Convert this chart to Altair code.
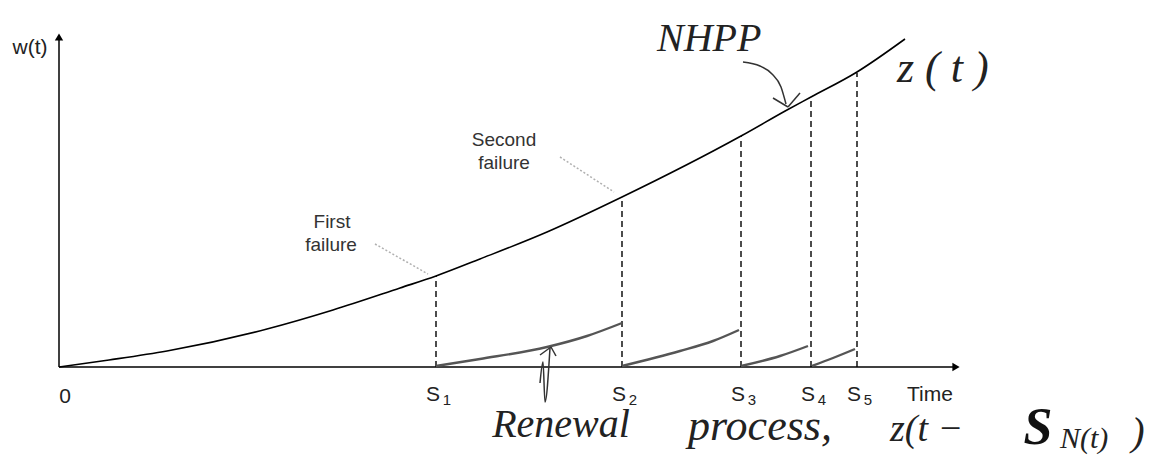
import altair as alt
import pandas as pd

# ---------------- data (time units along x, w(t) units along y) ----------------
# NHPP intensity curve z(t)
curve_t = [0, 0.5, 1.08, 2.08, 2.74, 3.41, 3.77, 4.21, 4.88, 5.63, 6.82, 7.28, 7.52, 7.98, 8.46]
curve_w = [0, 0.07, 0.16, 0.38, 0.57, 0.79, 0.91, 1.08, 1.35, 1.70, 2.31, 2.57, 2.70, 2.95, 3.28]

# failure times S1..S5 and the value of z at each
fail_idx = ["1", "2", "3", "4", "5"]
fail_t = [3.77, 5.63, 6.82, 7.52, 7.98]
fail_w = [0.91, 1.70, 2.31, 2.70, 2.94]

# renewal process pieces z(t - S_N(t))
renew_seg = [1, 1, 1, 1, 1, 2, 2, 2, 2, 3, 3, 3, 4, 4, 4]
renew_t = [3.77, 4.21, 4.88, 5.28, 5.63, 5.63, 6.21, 6.54, 6.80, 6.82, 7.21, 7.49, 7.53, 7.74, 7.96]
renew_w = [0.01, 0.08, 0.20, 0.31, 0.44, 0.01, 0.16, 0.26, 0.37, 0.01, 0.11, 0.21, 0.01, 0.09, 0.18]

# axis extents (arrow heads)
x_axis_end = 8.97
y_axis_end = 3.30

# printed annotations
note_text = ["First", "failure", "Second", "failure"]
note_t = [2.73, 2.72, 4.45, 4.45]
note_w = [1.45, 1.22, 2.27, 2.04]

leader_id = [1, 1, 2, 2]
leader_t = [3.16, 3.69, 5.01, 5.55]
leader_w = [1.23, 0.93, 2.10, 1.75]

# axis text
axis_text = ["0", "Time", "w(t)"]
axis_t = [0.06, 8.71, -0.29]
axis_w = [-0.30, -0.28, 3.19]
s_label_w = -0.28

# handwritten notes
hand_text = ["NHPP", "z ( t )", "Renewal", "process,"]
hand_t = [5.98, 8.38, 5.02, 7.01]
hand_w = [3.28, 2.98, -0.70, -0.73]
hand_size = [40, 44, 40, 44]

formula_a_text = ["z(t \u2212"]
formula_a_t = [8.31]
formula_a_w = [-0.74]
formula_s_t = [9.79]
formula_s_w = [-0.77]
formula_sub_text = ["N(t)"]
formula_sub_t = [10.01]
formula_sub_w = [-0.81]
formula_close_t = [10.79]
formula_close_w = [-0.78]

# handwritten arrows
harrow_id = [1, 1, 1, 1, 1, 2, 2, 3, 3, 4, 4, 4, 4, 5, 5, 6, 6]
harrow_t = [6.84, 7.01, 7.13, 7.22, 7.27, 7.14, 7.29, 7.41, 7.29,
            4.86, 4.81, 4.84, 4.91, 4.81, 4.92, 4.97, 4.92]
harrow_w = [3.05, 3.01, 2.93, 2.80, 2.63, 2.69, 2.60, 2.74, 2.60,
            -0.35, -0.16, 0.05, 0.19, 0.12, 0.20, 0.11, 0.20]

# ---------------- scales ----------------
XS = alt.Scale(domain=[-0.51, 11.02], nice=False, zero=False)
YS = alt.Scale(domain=[-0.88, 3.59], nice=False, zero=False)


def X(field="t"):
    return alt.X(f"{field}:Q", scale=XS, axis=None)


def Y(field="w"):
    return alt.Y(f"{field}:Q", scale=YS, axis=None)


curve_df = pd.DataFrame({"t": curve_t, "w": curve_w})
fail_df = pd.DataFrame({"i": fail_idx, "t": fail_t, "w": fail_w, "w0": [0.0] * 5,
                        "ly": [s_label_w] * 5})
renew_df = pd.DataFrame({"seg": renew_seg, "t": renew_t, "w": renew_w})
note_df = pd.DataFrame({"label": note_text, "t": note_t, "w": note_w})
leader_df = pd.DataFrame({"id": leader_id, "t": leader_t, "w": leader_w})
axis_df = pd.DataFrame({"label": axis_text, "t": axis_t, "w": axis_w})
hand_df = pd.DataFrame({"label": hand_text, "t": hand_t, "w": hand_w, "size": hand_size})
harrow_df = pd.DataFrame({"id": harrow_id, "t": harrow_t, "w": harrow_w})

axes_df = pd.DataFrame({"t": [0.0, 0.0], "w": [0.0, 0.0], "t2": [x_axis_end, 0.0],
                        "w2": [0.0, y_axis_end]})
xhead_df = pd.DataFrame({"t": [x_axis_end], "w": [0.0]})
yhead_df = pd.DataFrame({"t": [0.0], "w": [y_axis_end]})

# ---------------- layers ----------------
axes = alt.Chart(axes_df).mark_rule(color="black", strokeWidth=1.5).encode(
    x=X(), y=Y(), x2="t2:Q", y2="w2:Q")
xhead = alt.Chart(xhead_df).mark_point(shape="triangle-right", filled=True, size=70,
                                       color="black", opacity=1).encode(x=X(), y=Y())
yhead = alt.Chart(yhead_df).mark_point(shape="triangle-up", filled=True, size=70,
                                       color="black", opacity=1).encode(x=X(), y=Y())

curve = alt.Chart(curve_df).mark_line(color="black", strokeWidth=1.6,
                                      interpolate="monotone").encode(x=X(), y=Y())

drops = alt.Chart(fail_df).mark_rule(color="black", strokeWidth=1.4,
                                     strokeDash=[6, 4]).encode(x=X(), y=Y("w0"), y2="w:Q")

renew = alt.Chart(renew_df).mark_line(color="#555555", strokeWidth=2.4,
                                      interpolate="monotone").encode(
    x=X(), y=Y(), detail="seg:N")

leaders = alt.Chart(leader_df).mark_line(color="#b0b0b0", strokeWidth=1.5,
                                         strokeDash=[2, 2]).encode(
    x=X(), y=Y(), detail="id:N")

notes = alt.Chart(note_df).mark_text(font="Liberation Sans", fontSize=19, color="#333333",
                                     align="center", baseline="middle").encode(
    x=X(), y=Y(), text="label:N")

axis_labels = alt.Chart(axis_df).mark_text(font="Liberation Sans", fontSize=21,
                                           color="#222222", align="center",
                                           baseline="middle").encode(
    x=X(), y=Y(), text="label:N")

s_main = alt.Chart(fail_df).mark_text(font="Liberation Sans", fontSize=21, color="#222222",
                                      align="center", baseline="middle", dx=-3).encode(
    x=X(), y=Y("ly"), text=alt.value("S"))
s_sub = alt.Chart(fail_df).mark_text(font="Liberation Sans", fontSize=15, color="#222222",
                                     align="center", baseline="middle", dx=11, dy=5).encode(
    x=X(), y=Y("ly"), text="i:N")

hand_top = alt.Chart(hand_df.iloc[:2]).mark_text(font="Liberation Serif", fontStyle="italic",
                                                 color="#222222", align="left",
                                                 baseline="middle").encode(
    x=X(), y=Y(), text="label:N",
    size=alt.Size("size:Q", scale=None, legend=None))
hand_bottom = alt.Chart(hand_df.iloc[2:]).mark_text(font="Liberation Serif", fontStyle="italic",
                                                    color="#222222", align="center",
                                                    baseline="alphabetic").encode(
    x=X(), y=Y(), text="label:N",
    size=alt.Size("size:Q", scale=None, legend=None))

f_a = alt.Chart(pd.DataFrame({"label": formula_a_text, "t": formula_a_t, "w": formula_a_w})
                ).mark_text(font="Liberation Serif", fontStyle="italic", fontSize=38,
                            color="#222222", align="left", baseline="alphabetic").encode(
    x=X(), y=Y(), text="label:N")
f_s = alt.Chart(pd.DataFrame({"t": formula_s_t, "w": formula_s_w})).mark_text(
    font="Liberation Serif", fontStyle="italic", fontWeight="bold", fontSize=52,
    color="#111111", align="center", baseline="alphabetic").encode(
    x=X(), y=Y(), text=alt.value("S"))
f_sub = alt.Chart(pd.DataFrame({"label": formula_sub_text, "t": formula_sub_t,
                                "w": formula_sub_w})).mark_text(
    font="Liberation Serif", fontStyle="italic", fontSize=30, color="#222222",
    align="left", baseline="alphabetic").encode(x=X(), y=Y(), text="label:N")
f_close = alt.Chart(pd.DataFrame({"t": formula_close_t, "w": formula_close_w})).mark_text(
    font="Liberation Serif", fontStyle="italic", fontSize=40, color="#222222",
    align="center", baseline="alphabetic").encode(x=X(), y=Y(), text=alt.value(")"))

harrows = alt.Chart(harrow_df).mark_line(color="#333333", strokeWidth=1.5,
                                         interpolate="monotone").encode(
    x=X(), y=Y(), detail="id:N")

chart = alt.layer(
    leaders, axes, xhead, yhead, drops, curve, renew, notes, axis_labels, s_main, s_sub,
    hand_top, hand_bottom, f_a, f_s, f_sub, f_close, harrows
).properties(
    width=1153, height=447, padding=0,
    autosize=alt.AutoSizeParams(type="none"),
    background="white",
).configure_view(stroke=None)

chart.save("out.html", embed_options={"renderer": "svg", "actions": False})
